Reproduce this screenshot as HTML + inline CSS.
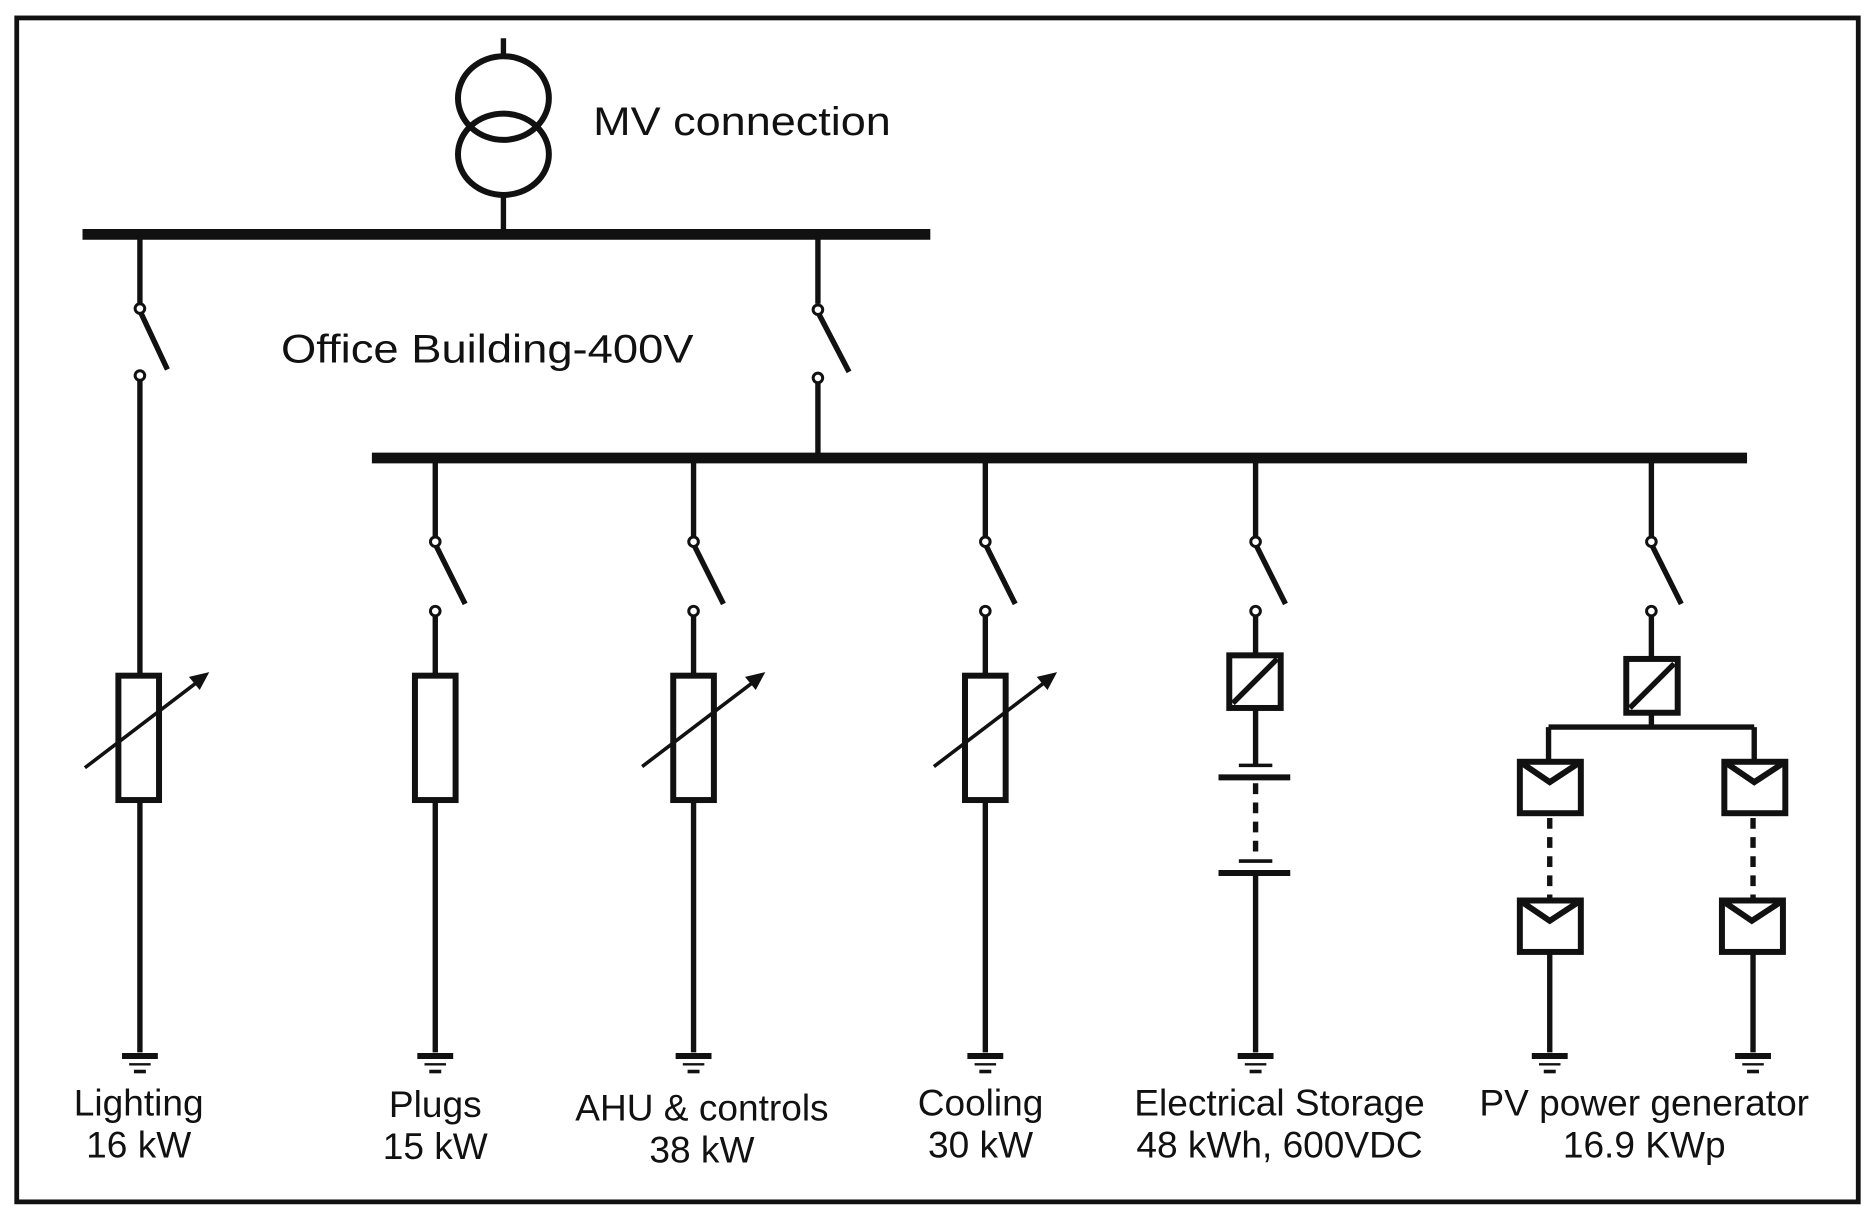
<!DOCTYPE html>
<html><head><meta charset="utf-8"><style>
html,body{margin:0;padding:0;background:#fff;}
svg{display:block;}
text{font-family:"Liberation Sans",sans-serif;fill:#111;}
</style></head><body>
<svg width="1875" height="1221" viewBox="0 0 1568 1021" preserveAspectRatio="none" xmlns="http://www.w3.org/2000/svg">
<rect x="0" y="0" width="1568" height="1021" fill="#fff"/>
<rect x="14" y="15" width="1540" height="990" fill="none" stroke="#111" stroke-width="4"/>
<g stroke="#111" fill="none" stroke-width="4.5">
<line x1="421" y1="32" x2="421" y2="47"/>
<ellipse cx="421" cy="82" rx="38" ry="35" stroke-width="5"/>
<ellipse cx="421" cy="129" rx="38" ry="34" stroke-width="5"/>
<line x1="421" y1="163" x2="421" y2="194"/>
<line x1="69" y1="196" x2="778" y2="196" stroke-width="9"/>
<line x1="117" y1="196" x2="117" y2="254"/>
<circle cx="117" cy="258" r="4" stroke-width="2.5" fill="#fff"/>
<line x1="118" y1="262" x2="140" y2="309"/>
<circle cx="117" cy="314" r="4" stroke-width="2.5" fill="#fff"/>
<line x1="117" y1="318" x2="117" y2="563"/>
<rect x="99" y="565" width="34" height="104" stroke-width="5"/>
<line x1="117" y1="669" x2="117" y2="880"/>
<line x1="684" y1="196" x2="684" y2="254"/>
<circle cx="684" cy="259" r="4" stroke-width="2.5" fill="#fff"/>
<line x1="685" y1="263" x2="710" y2="311"/>
<circle cx="684" cy="316" r="4" stroke-width="2.5" fill="#fff"/>
<line x1="684" y1="320" x2="684" y2="383"/>
<line x1="311" y1="383" x2="1461" y2="383" stroke-width="9"/>
</g>
<g stroke="#111" fill="none" stroke-width="4.5">
<path d="M364 383V449 M580 383V449 M824 383V449 M1050 383V449 M1381 383V449"/>
<g fill="#fff" stroke-width="2.5">
<circle cx="364" cy="453" r="4"/><circle cx="580" cy="453" r="4"/><circle cx="824" cy="453" r="4"/><circle cx="1050" cy="453" r="4"/><circle cx="1381" cy="453" r="4"/>
</g>
<path d="M365 457L389 505 M581 457L605 505 M825 457L849 505 M1051 457L1075 505 M1382 457L1406 505"/>
<g fill="#fff" stroke-width="2.5">
<circle cx="364" cy="511" r="4"/><circle cx="580" cy="511" r="4"/><circle cx="824" cy="511" r="4"/><circle cx="1050" cy="511" r="4"/><circle cx="1381" cy="511" r="4"/>
</g>
<path d="M364 515V565 M364 669V880"/>
<rect x="347" y="565" width="34" height="104" stroke-width="5"/>
<path d="M580 515V565 M580 669V880"/>
<rect x="563" y="565" width="34" height="104" stroke-width="5"/>
<path d="M824 515V565 M824 669V880"/>
<rect x="807" y="565" width="34" height="104" stroke-width="5"/>
<path d="M1050 515V546 M1050 592V640 M1050 730V880"/>
<rect x="1028" y="548" width="43" height="44" stroke-width="5"/>
<line x1="1031" y1="588" x2="1068" y2="551"/>
<line x1="1036" y1="640" x2="1064" y2="640" stroke-width="3"/>
<line x1="1019" y1="650" x2="1079" y2="650" stroke-width="5"/>
<line x1="1050" y1="655" x2="1050" y2="716" stroke-dasharray="9,7"/>
<line x1="1036" y1="720" x2="1064" y2="720" stroke-width="3"/>
<line x1="1019" y1="730" x2="1079" y2="730" stroke-width="5"/>
<path d="M1381 515V550 M1381 597V608 M1295 608H1467 M1295 608V637 M1467 608V637"/>
<rect x="1360" y="551" width="43" height="45" stroke-width="5"/>
<line x1="1363" y1="592" x2="1400" y2="555"/>
<g stroke-width="5">
<rect x="1271" y="637" width="51" height="43"/><path d="M1271 637L1296 654L1322 637"/>
<rect x="1442" y="637" width="51" height="43"/><path d="M1442 637L1467 654L1493 637"/>
<rect x="1271" y="753" width="51" height="43"/><path d="M1271 753L1296 770L1322 753"/>
<rect x="1440" y="753" width="51" height="43"/><path d="M1440 753L1465 770L1491 753"/>
</g>
<line x1="1296" y1="684" x2="1296" y2="751" stroke-dasharray="9,7"/>
<line x1="1466" y1="684" x2="1466" y2="751" stroke-dasharray="9,7"/>
<path d="M1296 796V880 M1466 796V880"/>
<g stroke-width="3">
<line x1="71" y1="642" x2="168" y2="568"/>
<line x1="537" y1="641" x2="633" y2="568"/>
<line x1="781" y1="641" x2="877" y2="568"/>
</g>
</g>
<g fill="#111">
<polygon points="175,562 158,566 167,577"/>
<polygon points="640,562 623,566 632,577"/>
<polygon points="884,562 867,566 876,577"/>
</g>
<g stroke="#111" stroke-width="4">
<g><line x1="102" y1="883" x2="132" y2="883" stroke-width="5"/><line x1="108" y1="890" x2="126" y2="890" stroke-width="2"/><line x1="112" y1="896" x2="122" y2="896" stroke-width="3"/></g>
<g transform="translate(247,0)"><line x1="102" y1="883" x2="132" y2="883" stroke-width="5"/><line x1="108" y1="890" x2="126" y2="890" stroke-width="2"/><line x1="112" y1="896" x2="122" y2="896" stroke-width="3"/></g>
<g transform="translate(463,0)"><line x1="102" y1="883" x2="132" y2="883" stroke-width="5"/><line x1="108" y1="890" x2="126" y2="890" stroke-width="2"/><line x1="112" y1="896" x2="122" y2="896" stroke-width="3"/></g>
<g transform="translate(707,0)"><line x1="102" y1="883" x2="132" y2="883" stroke-width="5"/><line x1="108" y1="890" x2="126" y2="890" stroke-width="2"/><line x1="112" y1="896" x2="122" y2="896" stroke-width="3"/></g>
<g transform="translate(933,0)"><line x1="102" y1="883" x2="132" y2="883" stroke-width="5"/><line x1="108" y1="890" x2="126" y2="890" stroke-width="2"/><line x1="112" y1="896" x2="122" y2="896" stroke-width="3"/></g>
<g transform="translate(1179,0)"><line x1="102" y1="883" x2="132" y2="883" stroke-width="5"/><line x1="108" y1="890" x2="126" y2="890" stroke-width="2"/><line x1="112" y1="896" x2="122" y2="896" stroke-width="3"/></g>
<g transform="translate(1349,0)"><line x1="102" y1="883" x2="132" y2="883" stroke-width="5"/><line x1="108" y1="890" x2="126" y2="890" stroke-width="2"/><line x1="112" y1="896" x2="122" y2="896" stroke-width="3"/></g>
</g>
<text x="496" y="113" font-size="33" textLength="249" lengthAdjust="spacingAndGlyphs">MV connection</text>
<text x="235" y="303" font-size="33" textLength="345" lengthAdjust="spacingAndGlyphs">Office Building-400V</text>
<g font-size="31" text-anchor="middle">
<text x="116" y="933">Lighting</text><text x="116" y="968">16 kW</text>
<text x="364" y="934">Plugs</text><text x="364" y="969">15 kW</text>
<text x="587" y="937">AHU &amp; controls</text><text x="587" y="972">38 kW</text>
<text x="820" y="933">Cooling</text><text x="820" y="968">30 kW</text>
<text x="1070" y="933">Electrical Storage</text><text x="1070" y="968">48 kWh, 600VDC</text>
<text x="1375" y="933">PV power generator</text><text x="1375" y="968">16.9 KWp</text>
</g>
</svg>
</body></html>
